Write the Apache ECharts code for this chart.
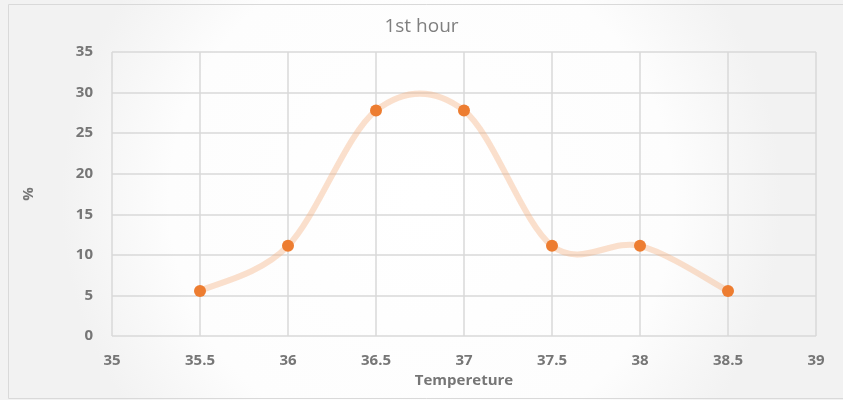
<!DOCTYPE html>
<html><head><meta charset="utf-8">
<script src="https://cdn.jsdelivr.net/npm/echarts@6/dist/echarts.min.js"></script>
<style>html,body{margin:0;padding:0;background:#fff}#c{width:843px;height:400px}</style>
</head><body><div id="c"></div>
<script>
const temperatures = [35.5, 36, 36.5, 37, 37.5, 38, 38.5];
const percents = [5.56, 11.11, 27.78, 27.78, 11.11, 11.11, 5.56];
const chartTitle = '1st hour';
const xName = 'Tempereture';
const yName = '%';

const chart = echarts.init(document.getElementById('c'), null, {renderer: 'canvas'});
const pts = temperatures.map((t, i) => [t, percents[i]]);

// Excel-like smoothed line: Catmull-Rom style cubic Bezier through the data points,
// positioned via the chart's own coordinate system (api.coord).
function renderSmooth(params, api) {
  if (params.dataIndex !== 0) return null;
  const P = pts.map(p => api.coord(p));
  const k = 1 / 6;
  let d = 'M' + P[0][0] + ' ' + P[0][1];
  for (let i = 0; i < P.length - 1; i++) {
    const p0 = P[Math.max(i - 1, 0)], p1 = P[i], p2 = P[i + 1], p3 = P[Math.min(i + 2, P.length - 1)];
    const c1 = [p1[0] + (p2[0] - p0[0]) * k, p1[1] + (p2[1] - p0[1]) * k];
    const c2 = [p2[0] - (p3[0] - p1[0]) * k, p2[1] - (p3[1] - p1[1]) * k];
    d += ' C' + c1[0] + ' ' + c1[1] + ' ' + c2[0] + ' ' + c2[1] + ' ' + p2[0] + ' ' + p2[1];
  }
  return {type: 'path', shape: {pathData: d},
    style: {fill: 'none', stroke: 'rgba(244,177,131,0.4)', lineWidth: 6, lineCap: 'round'}};
}

chart.setOption({
  animation: false,
  backgroundColor: {type: 'radial', x: 0.5, y: 0.5, r: 0.9,
    colorStops: [{offset: 0, color: '#ffffff'}, {offset: 0.7, color: '#fdfdfd'}, {offset: 1, color: '#f2f2f2'}]},
  graphic: [{type: 'rect', shape: {x: 8.5, y: 4.5, width: 850, height: 394}, style: {fill: 'none', stroke: '#d9d9d9', lineWidth: 1}, z: -1}],
  title: {text: chartTitle, left: 'center', top: 12,
    textStyle: {color: '#7f7f7f', fontSize: 19, fontWeight: 'normal', fontFamily: 'Open Sans', letterSpacing: 1.5}},
  grid: {left: 112, right: 27, top: 52, bottom: 64},
  xAxis: {type: 'value', min: 35, max: 39, interval: 0.5,
    name: xName, nameLocation: 'middle', nameGap: 35,
    nameTextStyle: {color: '#767676', fontSize: 15, fontWeight: 'bold', fontFamily: 'Open Sans'},
    axisLine: {show: false}, axisTick: {show: false},
    axisLabel: {color: '#767676', fontSize: 15, fontWeight: 'bold', fontFamily: 'Open Sans', margin: 17},
    splitLine: {show: true, lineStyle: {color: '#d9d9d9', width: 1.5}}},
  yAxis: {type: 'value', min: 0, max: 35, interval: 5,
    name: yName, nameLocation: 'middle', nameGap: 76, nameRotate: 90,
    nameTextStyle: {color: '#767676', fontSize: 15, fontWeight: 'bold', fontFamily: 'Open Sans'},
    axisLine: {show: false}, axisTick: {show: false},
    axisLabel: {color: '#767676', fontSize: 15, fontWeight: 'bold', fontFamily: 'Open Sans', margin: 19},
    splitLine: {show: true, lineStyle: {color: '#d9d9d9', width: 1.5}}},
  series: [
    {type: 'custom', data: pts, renderItem: renderSmooth, z: 2},
    {type: 'scatter', data: pts, symbol: 'circle', symbolSize: 12,
      itemStyle: {color: '#ed7d31', opacity: 1}, z: 3}
  ]
});
</script></body></html>
